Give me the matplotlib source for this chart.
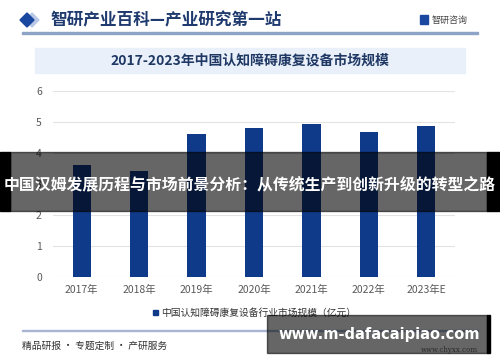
import matplotlib
matplotlib.use('Agg')
import matplotlib.pyplot as plt
from matplotlib.patches import Rectangle, Polygon

plt.rcParams['font.family'] = ['Noto Sans CJK SC', 'DejaVu Sans']

# data
years = ["2017年", "2018年", "2019年", "2020年", "2021年", "2022年", "2023年E"]
market_size = [3.61, 3.43, 4.60, 4.81, 4.95, 4.67, 4.88]
y_ticks = [0, 1, 2, 3, 4, 5, 6]

header_text = "智研产业百科—产业研究第一站"
chart_title = "2017-2023年中国认知障碍康复设备市场规模"
legend_label = "中国认知障碍康复设备行业市场规模（亿元）"
footer_left = "精品研报 · 专题定制 · 产研服务"
footer_right = "www.chyxx.com"
banner_text = "中国汉姆发展历程与市场前景分析：从传统生产到创新升级的转型之路"
site_text = "www.m-dafacaipiao.com"

W, H = 500, 362
BAR = '#0f3a8a'

fig = plt.figure(figsize=(W / 100, H / 100), dpi=100)
fig.patch.set_facecolor('white')


def px(x, y):
    # pixel (top-left origin) -> figure fraction
    return x / W, 1 - y / H


def rect(x0, y0, x1, y1, **kw):
    fx, fy = px(x0, y1)
    fig.patches.append(Rectangle((fx, fy), (x1 - x0) / W, (y1 - y0) / H,
                                 transform=fig.transFigure, **kw))


# header
d = [(20, 20), (27, 13), (34, 20), (27, 27)]
fig.patches.append(Polygon([px(x + 5, y) for x, y in d], closed=True,
                           transform=fig.transFigure, color='#b8c8e6'))
fig.patches.append(Polygon([px(x, y) for x, y in d], closed=True,
                           transform=fig.transFigure, color='#1a47a0'))
fig.text(*px(50, 20), header_text, fontsize=12, fontweight='bold',
         color='#1f3a6e', va='center', ha='left')
rect(420, 15, 428, 24, color='#1a47a0')
fig.text(*px(432, 20), "智研咨询", fontsize=6.5, color='#444444', va='center')
rect(22, 32, 478, 33.5, color='#8ea4c6')

# chart title box
rect(35, 48, 465, 73, color='#e9f0fa')
fig.text(*px(250, 61), chart_title, fontsize=10, fontweight='bold',
         color='#1f3864', ha='center', va='center')

# plot
ax = fig.add_axes([53 / W, (H - 277) / H, (455 - 53) / W, (277 - 91) / H])
x = range(len(years))
ax.bar(x, market_size, width=0.32, color=BAR, zorder=3)
ax.set_ylim(0, 6)
ax.set_xlim(-0.5, len(years) - 0.5)
ax.set_yticks(y_ticks)
ax.set_xticks(list(x))
ax.set_xticklabels(years)
ax.grid(axis='y', color='#e3e3e3', lw=0.8, zorder=0)
for s in ax.spines.values():
    s.set_visible(False)
ax.tick_params(length=0, labelsize=7.5, colors='#595959')
ax.tick_params(axis='y', pad=8)
ax.tick_params(axis='x', pad=6)
ax.set_facecolor('none')

# legend
rect(153, 310, 158, 315, color=BAR)
fig.text(*px(161, 312.5), legend_label, fontsize=7, color='#333333', va='center')

# footer
rect(22, 329.5, 478, 330.5, color='#a8b6d4')
fig.text(*px(22, 346), footer_left, fontsize=7, color='#333333', va='center')
fig.text(*px(478, 350), footer_right, fontsize=5, color='#666666',
         va='center', ha='right', family='DejaVu Serif')

# overlays
rect(0, 152, 10, 211, color='black', zorder=10)
rect(487, 152, 500, 211, color='black', zorder=10)
rect(10, 152, 487, 211, color='black', alpha=0.6, zorder=10)
fig.text(*px(250, 184), banner_text, fontsize=11.4, fontweight='bold',
         color='white', ha='center', va='center', zorder=11)

rect(267, 315, 487, 353, color='black', alpha=0.6, zorder=10)
rect(487, 315, 490, 353, color='black', zorder=10)
fig.text(*px(379, 334), site_text, fontsize=10.5, fontweight='bold',
         color='white', ha='center', va='center', family='DejaVu Sans', zorder=11)

fig.savefig('out.png', dpi=100, facecolor='white')
